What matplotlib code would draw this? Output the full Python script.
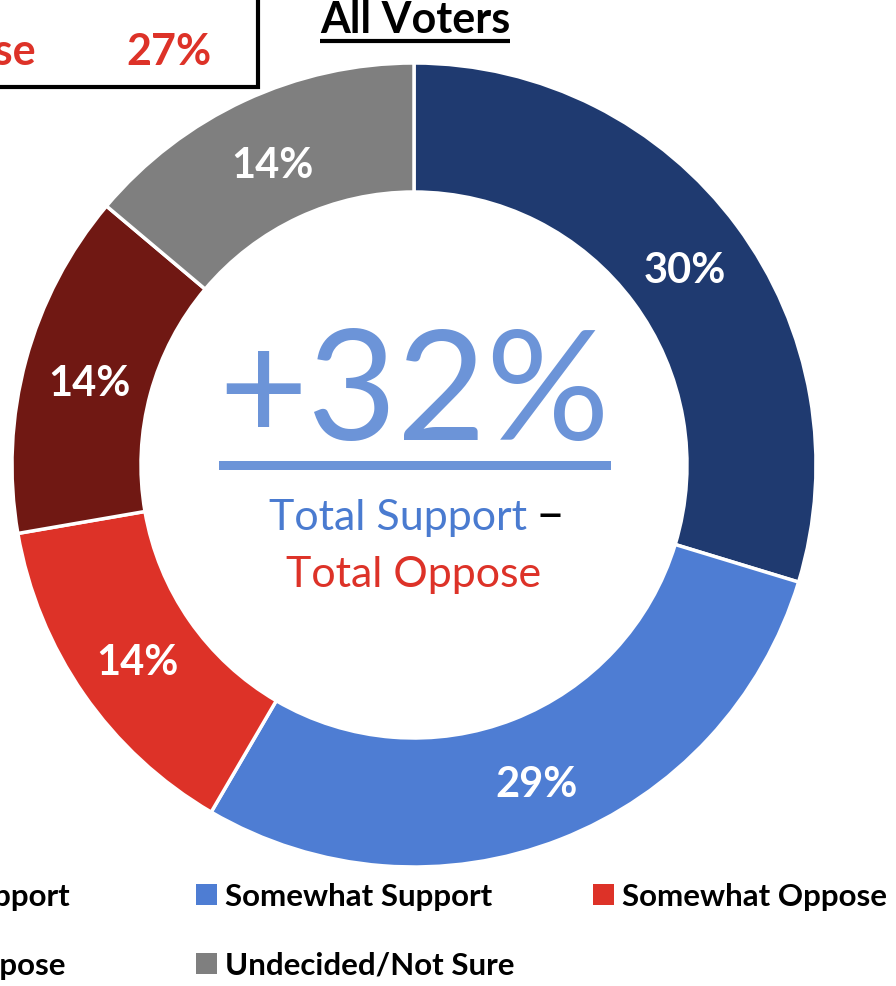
import numpy as np
import matplotlib
matplotlib.use("Agg")
import matplotlib.pyplot as plt
from matplotlib.patches import Rectangle

# data
categories = ["Strongly Support", "Somewhat Support", "Somewhat Oppose",
              "Strongly Oppose", "Undecided/Not Sure"]
values = [30, 29, 14, 14, 14]
colors = ["#1F3A70", "#4E7DD3", "#DD3228", "#701813", "#7F7F7F"]
net_label = "+32%"
total_oppose = 27

plt.rcParams['font.family'] = ['Lato', 'DejaVu Sans']

W, H = 896, 987
fig = plt.figure(figsize=(W / 100, H / 100), dpi=100)
ax = fig.add_axes([0, 0, 1, 1])

# donut, in pixel coordinates (y upward)
cx, cy = 414, H - 466
R = 402
ring = 129
wedges, _ = ax.pie(values, colors=colors, startangle=90, counterclock=False,
                   center=(cx, cy), radius=R,
                   wedgeprops=dict(width=ring, edgecolor="white", linewidth=2.5))
ax.set_xlim(0, W)
ax.set_ylim(0, H)
ax.set_aspect("auto")
ax.axis("off")

# percentage labels at the middle of each ring segment
r_lab = R - ring / 2 - 1
for w, v in zip(wedges, values):
    ang = np.deg2rad((w.theta1 + w.theta2) / 2)
    ax.text(cx + r_lab * np.cos(ang), cy + r_lab * np.sin(ang) - 2, f"{v}%",
            ha="center", va="center_baseline", color="white", fontsize=30,
            fontweight="bold")

# center text
blue_c = "#6C94D8"
ax.text(cx, H - 440, net_label, ha="center", va="baseline", color=blue_c,
        fontsize=111, fontweight="normal")
ax.add_patch(Rectangle((219, H - 471), 392, 9, color=blue_c, lw=0))
ax.text(527, H - 530, "Total Support", ha="right", va="baseline",
        color="#4A7BD0", fontsize=31)
ax.text(535, H - 530, "–", ha="left", va="baseline", color="black", fontsize=36)
ax.text(cx, H - 587, "Total Oppose", ha="center", va="baseline",
        color="#DD3228", fontsize=31)

# title
ax.text(415, H - 33, "All Voters", ha="center", va="baseline", color="black",
        fontsize=31, fontweight="bold")
ax.plot([320, 510], [H - 42, H - 42], color="black", lw=3, solid_capstyle="butt")

# top-left box (partly cropped)
ax.add_patch(Rectangle((-300, H - 88), 558, 160, fill=False, edgecolor="black", lw=3))
ax.text(36, H - 65, "Total Oppose", ha="right", va="baseline", color="#DD3228",
        fontsize=31, fontweight="bold")
ax.text(212, H - 65, f"{total_oppose}%", ha="right", va="baseline", color="#DD3228",
        fontsize=31, fontweight="bold")

# legend (first column partly cropped on the left)
leg_rows = [906, 906, 906, 975, 975]
leg_x = [70, 196, 593, 65, 196]
for i, (name, col) in enumerate(zip(categories, colors)):
    ly = H - leg_rows[i]
    if i in (0, 3):
        ax.text(leg_x[i], ly, name, ha="right", va="baseline", color="black",
                fontsize=22.5, fontweight="bold")
    else:
        ax.add_patch(Rectangle((leg_x[i], ly), 21, 21, color=col, lw=0))
        ax.text(leg_x[i] + 29, ly, name, ha="left", va="baseline", color="black",
                fontsize=22.5, fontweight="bold")

fig.savefig("out.png", dpi=100)
